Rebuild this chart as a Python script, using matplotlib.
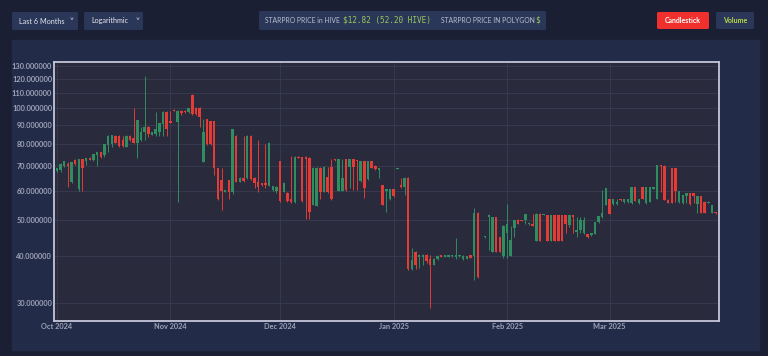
import numpy as np
import pandas as pd
import matplotlib
matplotlib.use("Agg")
import matplotlib.pyplot as plt
import matplotlib.dates as mdates
from matplotlib.patches import FancyBboxPatch, Rectangle
from matplotlib.ticker import FixedLocator, FuncFormatter, NullLocator

# =========================
# Data (daily OHLC, STARPRO)
# =========================
start_date = "2024-10-01"
nan = np.nan

opens = [68.0, 68.1, 69.9, 70.9, 63.5, 72.5, 60.5, 73.0, 72.0, 73.6,
         72.4, 74.8, 76.3, 74.8, 79.7, 80.0, 84.4, 84.4, 82.0, 78.8,
         84.4, 83.2, 80.9, 82.0, 86.2, 89.3, 85.0, 85.5, 86.2, 90.7,
         97.9, 92.3, 99.2, 91.9, 98.6, 98.6, 97.5, 108.8, 100.3, 100.3,
         71.7, 93.5, 92.3, 92.3, 68.9, 64.1, 59.7, 64.1, 59.7, 84.4,
         63.5, 64.8, 64.8, 84.4, 65.1, 63.5, 62.8, 63.1, 61.9, 60.2,
         60.0, 72.0, 59.7, 59.2, 57.0, 56.0, 74.1, 73.8, 74.1, 73.6,
         55.0, 54.6, 69.2, 59.7, 65.4, 69.6, 73.0, 60.0, 60.0, 73.0,
         69.6, 73.0, 72.5, 63.7, 72.0, 64.5, 72.0, 70.0, 68.4, 62.1,
         60.0, 57.0, 60.5, 68.7, 62.3, 61.4, 65.0, 37.0, 41.2, 39.8,
         39.8, 40.3, 39.4, 38.0, 39.3, 40.3, 39.9, 39.9, 40.0, 39.9,
         40.0, 39.4, 39.4, 40.3, 40.1, 52.4, nan, 45.0, 51.0, 41.2,
         51.0, 45.1, 40.1, 46.2, 40.1, 47.8, 50.1, 50.1, 50.1, 48.8,
         49.0, 44.0, 52.1, 51.7, 51.7, 44.0, 51.7, 51.7, 51.7, 51.7,
         48.5, 51.7, 46.4, 47.1, 46.1, 45.9, 45.6, 45.9, 49.4, 50.9,
         55.0, 57.0, 55.2, 55.2, 57.0, 55.9, 55.9, 55.5, 61.3, 55.5,
         61.3, 55.5, 56.1, 60.7, 57.0, 70.3, 70.0, 56.8, 68.9, 68.9,
         55.9, 55.5, 58.1, 59.1, 59.1, 55.2, 58.1, 56.1, 55.7, 52.3,
         52.5]

highs = [68.9, 71.3, 72.2, 71.7, 71.7, 73.0, 73.2, 73.2, 73.5, 74.0,
         75.5, 76.4, 76.5, 80.0, 84.6, 84.9, 84.6, 84.6, 84.4, 84.6,
         84.6, 100.0, 93.2, 89.3, 122.3, 89.5, 86.5, 97.5, 91.5, 98.2,
         98.6, 98.6, 99.5, 98.9, 98.9, 98.8, 100.2, 109.0, 100.6, 100.6,
         93.5, 93.7, 92.5, 92.5, 69.2, 68.9, 60.4, 64.3, 88.0, 84.6,
         65.2, 84.4, 84.6, 84.6, 65.3, 82.4, 63.0, 80.0, 81.2, 62.0,
         61.8, 72.2, 63.3, 59.4, 74.4, 74.3, 74.3, 74.0, 74.3, 73.8,
         69.4, 69.4, 69.6, 69.8, 69.6, 72.9, 73.2, 73.2, 73.0, 73.2,
         73.2, 73.2, 72.7, 72.2, 72.2, 72.2, 72.2, 70.2, 69.0, 62.3,
         60.6, 60.6, 60.7, 69.3, 64.8, 65.2, 65.3, 42.0, 41.4, 40.5,
         40.5, 40.5, 40.3, 39.6, 40.3, 40.4, 40.4, 40.4, 40.4, 44.7,
         40.4, 40.3, 40.2, 40.4, 53.8, 52.5, nan, 45.4, 51.9, 51.1,
         51.1, 45.2, 48.5, 55.4, 48.4, 50.2, 50.3, 50.2, 52.1, 49.4,
         52.1, 52.2, 52.2, 52.1, 51.8, 51.8, 51.8, 51.8, 51.8, 51.8,
         51.6, 51.8, 51.0, 50.9, 50.9, 46.0, 46.2, 49.5, 51.3, 60.2,
         61.1, 57.1, 57.1, 57.0, 57.1, 57.1, 57.1, 61.4, 61.4, 57.1,
         61.4, 61.4, 61.4, 61.4, 70.4, 70.4, 70.2, 56.9, 69.0, 69.0,
         60.1, 58.5, 59.2, 59.2, 59.2, 58.2, 58.2, 56.2, 56.2, 55.1,
         52.6]

lows = [67.6, 67.6, 69.5, 61.6, 63.1, 70.6, 60.0, 60.0, 70.3, 72.5,
        72.0, 70.0, 73.6, 74.2, 76.1, 78.7, 80.5, 78.8, 78.7, 78.6,
        81.8, 80.7, 73.6, 81.8, 82.0, 83.5, 84.8, 84.4, 84.1, 84.1,
        84.4, 91.1, 98.2, 56.0, 96.0, 97.0, 97.3, 96.2, 96.2, 89.3,
        71.5, 79.8, 79.8, 66.1, 56.8, 53.3, 59.5, 57.0, 59.0, 63.3,
        63.3, 63.5, 64.6, 64.3, 61.0, 59.7, 61.9, 61.0, 61.7, 60.0,
        59.2, 56.1, 59.5, 56.0, 55.8, 55.8, 73.4, 56.1, 50.5, 50.5,
        54.8, 54.5, 57.2, 59.5, 59.2, 56.8, 72.3, 59.8, 59.8, 60.0,
        61.0, 60.2, 60.2, 63.5, 57.3, 64.3, 69.0, 68.3, 64.8, 54.8,
        52.6, 56.8, 57.9, 68.6, 61.2, 58.4, 36.8, 36.8, 37.0, 37.3,
        38.0, 38.3, 29.1, 37.9, 39.2, 39.8, 39.8, 39.8, 39.9, 39.3,
        39.9, 39.2, 39.3, 39.5, 34.5, 35.0, nan, 44.9, 41.6, 41.0,
        41.0, 41.0, 39.7, 39.7, 40.0, 45.1, 48.9, 49.7, 49.0, 48.7,
        48.2, 43.9, 43.9, 51.6, 43.9, 43.9, 43.9, 43.9, 43.9, 46.1,
        48.0, 46.1, 45.1, 46.1, 46.0, 44.9, 45.5, 45.8, 49.3, 50.8,
        54.9, 51.9, 55.1, 55.1, 56.5, 55.8, 55.8, 55.4, 56.2, 55.4,
        56.9, 55.4, 56.0, 60.6, 56.9, 59.7, 56.6, 55.6, 55.6, 56.1,
        55.8, 55.4, 55.5, 55.1, 55.5, 52.3, 52.2, 52.2, 55.6, 52.2,
        52.1]

closes = [68.9, 71.0, 72.0, 69.9, 71.7, 70.9, 73.0, 69.3, 73.3, 72.7,
          75.2, 76.1, 73.8, 80.0, 84.4, 84.7, 80.9, 79.3, 79.3, 84.4,
          82.0, 80.9, 92.9, 86.2, 89.3, 85.5, 86.2, 87.8, 91.3, 97.9,
          88.2, 91.3, 98.4, 98.6, 97.3, 97.5, 100.0, 96.4, 96.4, 94.6,
          86.4, 80.0, 80.0, 68.9, 57.0, 60.0, 60.2, 59.7, 87.8, 63.5,
          65.0, 63.7, 84.4, 64.5, 63.1, 61.4, 62.1, 62.2, 80.9, 61.9,
          61.6, 56.3, 63.1, 56.3, 56.0, 74.1, 73.6, 56.3, 73.0, 52.6,
          69.2, 69.2, 59.4, 69.6, 59.4, 57.0, 72.5, 73.0, 65.0, 60.2,
          73.0, 69.6, 72.0, 72.0, 61.0, 72.0, 69.2, 68.6, 68.9, 55.0,
          60.5, 60.5, 58.1, 69.2, 61.4, 65.0, 37.0, 39.2, 38.0, 40.3,
          40.3, 38.9, 38.0, 39.4, 40.1, 39.9, 40.3, 40.3, 40.3, 40.3,
          40.3, 40.1, 40.1, 39.6, 52.4, 35.1, nan, 45.3, 51.8, 51.0,
          41.2, 41.2, 48.4, 48.9, 44.3, 50.1, 49.0, 49.8, 52.1, 49.3,
          48.3, 52.1, 44.0, 52.0, 44.0, 51.7, 44.0, 44.0, 44.0, 49.0,
          51.5, 50.9, 47.1, 50.1, 50.1, 45.0, 46.1, 49.4, 51.2, 52.3,
          61.0, 52.0, 57.0, 56.1, 56.6, 57.0, 57.0, 61.3, 56.3, 57.0,
          57.0, 61.3, 61.3, 61.3, 70.3, 69.8, 56.7, 55.8, 55.8, 60.0,
          60.0, 58.4, 59.1, 55.2, 58.0, 58.1, 52.3, 52.3, 56.1, 55.0,
          52.2]

y_ticks = [30, 40, 50, 60, 70, 80, 90, 100, 110, 120, 130]
x_tick_labels = ["Oct 2024", "Nov 2024", "Dec 2024", "Jan 2025", "Feb 2025", "Mar 2025"]
x_tick_dates = ["2024-10-01", "2024-11-01", "2024-12-01", "2025-01-01", "2025-02-01", "2025-03-01"]

# =========================
# Colours
# =========================
PAGE = "#1b1f33"
PANEL = "#222b47"
PLOT_BG = "#292a3c"
GREEN = "#2f8d60"
RED = "#e33b35"
TICK = "#9ea3b8"

W, H = 768, 356
plt.rcParams["font.family"] = ["Lato", "DejaVu Sans"]


def fx(px):
    return px / W


def fy(py):
    return 1 - py / H


fig = plt.figure(figsize=(W / 100, H / 100), dpi=100)
fig.patch.set_facecolor(PAGE)

# chart panel
fig.add_artist(Rectangle((fx(12), fy(350)), fx(759 - 12), (350 - 40) / H,
                         transform=fig.transFigure, color=PANEL, zorder=0))


def box(x0, y0, x1, y1, color):
    fig.add_artist(FancyBboxPatch((fx(x0), fy(y1)), fx(x1 - x0), (y1 - y0) / H,
                                  boxstyle="round,pad=0,rounding_size=0.003",
                                  transform=fig.transFigure, color=color, lw=0))


# top controls
box(12, 12, 78, 30, "#2b3758")
fig.text(fx(19), fy(21), "Last 6 Months", color="#e4e6ee", fontsize=5.2, va="center")
fig.text(fx(72), fy(21), "\u02c5", color="#e4e6ee", fontsize=6, va="center", ha="center")
box(84, 12, 143, 30, "#2b3758")
fig.text(fx(91), fy(21), "Logarithmic", color="#e4e6ee", fontsize=5.2, va="center")
fig.text(fx(138), fy(21), "\u02c5", color="#e4e6ee", fontsize=6, va="center", ha="center")

box(259, 11, 546, 30, "#2b3758")
fig.text(fx(265), fy(20.5), "STARPRO PRICE in HIVE", color="#b9bdcd", fontsize=4.9, va="center")
fig.text(fx(343), fy(20.5), "$12.82 (52.20 HIVE)", color="#94c95a", fontsize=5.6,
         va="center", family="DejaVu Sans Mono")
fig.text(fx(441), fy(20.5), "STARPRO PRICE IN POLYGON", color="#b9bdcd", fontsize=4.9, va="center")
fig.text(fx(535), fy(20.5), "$", color="#94c95a", fontsize=5.6, va="center", family="DejaVu Sans Mono")

box(657, 12, 709, 29, "#f0302c")
fig.text(fx(683), fy(20.5), "Candlestick", color="white", fontsize=5.0, va="center",
         ha="center", weight="bold")
box(716, 12, 754, 29, "#2b3758")
fig.text(fx(735), fy(20.5), "Volume", color="#b9d84a", fontsize=5.0, va="center",
         ha="center", weight="bold")

# =========================
# Candles
# =========================
ax = fig.add_axes([fx(54.3), fy(321), fx(719 - 54.3), (321 - 62) / H])
ax.set_facecolor(PLOT_BG)

dates = pd.date_range(start_date, periods=len(opens), freq="D")
o = np.array(opens)
h = np.array(highs)
l = np.array(lows)
c = np.array(closes)
ok = ~np.isnan(o)
xd = mdates.date2num(dates)[ok]
o, h, l, c = o[ok], h[ok], l[ok], c[ok]

cols = np.where(c >= o, GREEN, RED)
lo = np.minimum(o, c)
hi = np.maximum(np.maximum(o, c), lo * 1.006)

ax.vlines(xd, l, h, colors=cols, lw=0.7, zorder=2)
ax.bar(xd, hi - lo, bottom=lo, width=0.68, color=cols, lw=0, zorder=3)

ax.set_yscale("log")
ax.set_ylim(26.8, 133.2)
ax.yaxis.set_major_locator(FixedLocator(y_ticks))
ax.yaxis.set_minor_locator(NullLocator())
ax.yaxis.set_major_formatter(FuncFormatter(lambda v, p: f"{v:.6f}"))

x0 = mdates.date2num(pd.Timestamp(start_date))
ax.set_xlim(x0 - 0.7, x0 + 180.9)
ax.set_xticks(mdates.date2num(pd.to_datetime(x_tick_dates)))
ax.set_xticklabels(x_tick_labels)

ax.grid(True, color="#393b52", lw=0.6, zorder=0)
ax.set_axisbelow(True)
ax.tick_params(axis="both", length=0, colors=TICK, labelsize=5.3, pad=1.5)
for lab in ax.get_xticklabels() + ax.get_yticklabels():
    lab.set_fontweight("bold")
for sp in ax.spines.values():
    sp.set_color("#c5c6da")
    sp.set_linewidth(1.3)

fig.savefig("out.png", dpi=100, facecolor=PAGE)
